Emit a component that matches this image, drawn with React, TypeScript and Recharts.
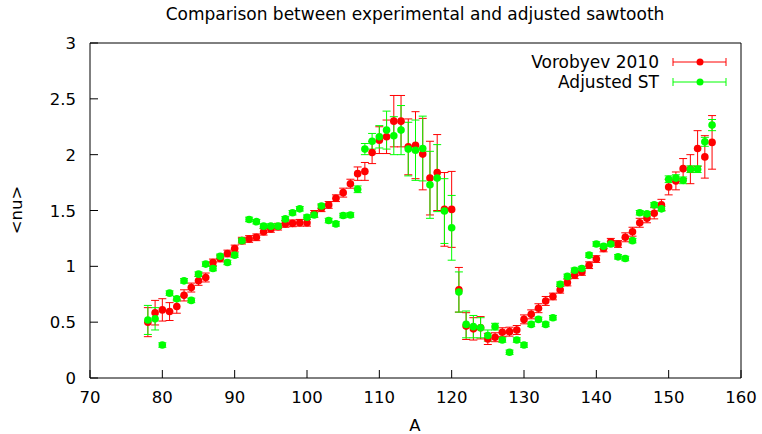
import React from "react";
import {
    ScatterChart,
    Scatter,
    XAxis,
    YAxis,
    ErrorBar,
} from "recharts";

// mass numbers A = 78 .. 156
const massNumbers = [
    78, 79, 80, 81, 82, 83, 84, 85, 86, 87, 88, 89, 90, 91, 92, 93, 94, 95, 96, 97,
    98, 99, 100, 101, 102, 103, 104, 105, 106, 107, 108, 109, 110, 111, 112, 113, 114, 115, 116, 117,
    118, 119, 120, 121, 122, 123, 124, 125, 126, 127, 128, 129, 130, 131, 132, 133, 134, 135, 136, 137,
    138, 139, 140, 141, 142, 143, 144, 145, 146, 147, 148, 149, 150, 151, 152, 153, 154, 155, 156,
];

// Vorobyev 2010
const vorobyevNu = [
    0.50, 0.585, 0.61, 0.595, 0.64, 0.74, 0.81, 0.87, 0.90, 1.035, 1.07, 1.115, 1.16, 1.23, 1.245, 1.26, 1.31, 1.335, 1.355, 1.38,
    1.385, 1.39, 1.39, 1.47, 1.52, 1.55, 1.61, 1.66, 1.74, 1.83, 1.85, 2.02, 2.13, 2.16, 2.30, 2.30, 2.07, 2.085, 2.005, 1.79,
    1.84, 1.51, 1.51, 0.79, 0.465, 0.44, 0.45, 0.35, 0.365, 0.41, 0.415, 0.43, 0.525, 0.57, 0.625, 0.69, 0.73, 0.79, 0.855, 0.92,
    0.95, 1.01, 1.065, 1.16, 1.22, 1.20, 1.26, 1.31, 1.39, 1.43, 1.475, 1.55, 1.71, 1.765, 1.875, 1.87, 2.055, 1.98, 2.11,
];
const vorobyevErr = [
    0.13, 0.11, 0.10, 0.08, 0.06, 0.05, 0.04, 0.04, 0.04, 0.03, 0.03, 0.03, 0.03, 0.03, 0.03, 0.03, 0.03, 0.03, 0.03, 0.03,
    0.03, 0.03, 0.03, 0.03, 0.03, 0.03, 0.03, 0.04, 0.04, 0.06, 0.08, 0.10, 0.12, 0.15, 0.23, 0.23, 0.25, 0.30, 0.32, 0.33,
    0.34, 0.33, 0.34, 0.20, 0.12, 0.10, 0.10, 0.05, 0.04, 0.04, 0.04, 0.04, 0.04, 0.04, 0.04, 0.04, 0.03, 0.03, 0.03, 0.03,
    0.03, 0.03, 0.03, 0.03, 0.03, 0.03, 0.04, 0.04, 0.04, 0.04, 0.05, 0.05, 0.07, 0.08, 0.09, 0.13, 0.16, 0.19, 0.24,
];

// Adjusted ST
const adjustedNu = [
    0.52, 0.53, 0.295, 0.76, 0.71, 0.87, 0.695, 0.93, 1.02, 0.98, 1.09, 1.035, 1.10, 1.23, 1.42, 1.40, 1.36, 1.36, 1.36, 1.425,
    1.48, 1.515, 1.44, 1.46, 1.54, 1.41, 1.38, 1.455, 1.46, 1.69, 2.05, 2.12, 2.16, 2.22, 2.17, 2.22, 2.05, 2.04, 2.055, 1.73,
    1.79, 1.495, 1.345, 0.77, 0.48, 0.46, 0.45, 0.38, 0.46, 0.34, 0.23, 0.34, 0.295, 0.48, 0.525, 0.48, 0.54, 0.84, 0.91, 0.965,
    0.98, 1.10, 1.20, 1.18, 1.20, 1.085, 1.07, 1.23, 1.48, 1.47, 1.55, 1.515, 1.78, 1.79, 1.77, 1.87, 1.87, 2.115, 2.265,
];
const adjustedErr = [
    0.13, 0.10, 0.02, 0.02, 0.02, 0.02, 0.02, 0.02, 0.02, 0.02, 0.02, 0.02, 0.02, 0.02, 0.02, 0.02, 0.02, 0.02, 0.02, 0.02,
    0.02, 0.02, 0.02, 0.02, 0.02, 0.02, 0.02, 0.02, 0.02, 0.03, 0.05, 0.07, 0.10, 0.17, 0.17, 0.22, 0.24, 0.27, 0.29, 0.30,
    0.30, 0.29, 0.29, 0.18, 0.12, 0.10, 0.09, 0.05, 0.03, 0.02, 0.02, 0.02, 0.02, 0.02, 0.02, 0.02, 0.02, 0.02, 0.02, 0.02,
    0.02, 0.02, 0.02, 0.02, 0.02, 0.02, 0.02, 0.02, 0.02, 0.02, 0.02, 0.02, 0.03, 0.03, 0.03, 0.03, 0.03, 0.04, 0.05,
];

const xTicks = [70, 80, 90, 100, 110, 120, 130, 140, 150, 160];
const yTicks = [0, 0.5, 1, 1.5, 2, 2.5, 3];

const vorobyev = massNumbers.map((a, i) => ({ a, nu: vorobyevNu[i], err: vorobyevErr[i] }));
const adjusted = massNumbers.map((a, i) => ({ a, nu: adjustedNu[i], err: adjustedErr[i] }));

const FONT = "'DejaVu Sans', sans-serif";
const RED = "#ff0000";
const GREEN = "#00ff00";
const TIC = 8;

const BottomTick = (props: any) => {
    const { x, y, payload } = props;
    return (
        <g>
            <line x1={x} y1={y} x2={x} y2={y - TIC} stroke="#000" />
            <text x={x} y={y + 25} textAnchor="middle" fontSize={16.5} fontFamily={FONT} fill="#000">
                {payload.value}
            </text>
        </g>
    );
};

const TopTick = (props: any) => {
    const { x, y } = props;
    return <line x1={x} y1={y} x2={x} y2={y + TIC} stroke="#000" />;
};

const LeftTick = (props: any) => {
    const { x, y, payload } = props;
    return (
        <g>
            <line x1={x} y1={y} x2={x + TIC} y2={y} stroke="#000" />
            <text x={x - 14} y={y + 6} textAnchor="end" fontSize={16.5} fontFamily={FONT} fill="#000">
                {payload.value}
            </text>
        </g>
    );
};

const RightTick = (props: any) => {
    const { x, y } = props;
    return <line x1={x} y1={y} x2={x - TIC} y2={y} stroke="#000" />;
};

const dot = (color: string) => (props: any) => (
    <circle cx={props.cx} cy={props.cy} r={3.8} fill={color} />
);

const LegendRow = ({ y, label, color }: { y: number; label: string; color: string }) => (
    <g>
        <text x={659} y={y + 6} textAnchor="end" fontSize={17} fontFamily={FONT} fill="#000">
            {label}
        </text>
        <line x1={673} y1={y} x2={726} y2={y} stroke={color} />
        <line x1={673} y1={y - 4} x2={673} y2={y + 4} stroke={color} />
        <line x1={726} y1={y - 4} x2={726} y2={y + 4} stroke={color} />
        <circle cx={700} cy={y} r={3.5} fill={color} />
    </g>
);

export default function App() {
    return (
        <div style={{ position: "absolute", left: 0, top: 0, width: 762, height: 434, background: "#fff" }}>
            <ScatterChart width={762} height={434} margin={{ top: 42, right: 20, bottom: 16, left: 40 }}>
                <XAxis
                    xAxisId="bottom"
                    dataKey="a"
                    type="number"
                    domain={[70, 160]}
                    ticks={xTicks}
                    height={40}
                    tickSize={0}
                    tickMargin={0}
                    tickLine={false}
                    axisLine={{ stroke: "#000" }}
                    tick={BottomTick}
                    interval={0}
                />
                <XAxis
                    xAxisId="top"
                    orientation="top"
                    dataKey="a"
                    type="number"
                    domain={[70, 160]}
                    ticks={xTicks}
                    height={1}
                    tickSize={0}
                    tickMargin={0}
                    tickLine={false}
                    axisLine={{ stroke: "#000" }}
                    tick={TopTick}
                    interval={0}
                />
                <YAxis
                    yAxisId="left"
                    dataKey="nu"
                    type="number"
                    domain={[0, 3]}
                    ticks={yTicks}
                    width={50}
                    tickSize={0}
                    tickMargin={0}
                    tickLine={false}
                    axisLine={{ stroke: "#000" }}
                    tick={LeftTick}
                    interval={0}
                />
                <YAxis
                    yAxisId="right"
                    orientation="right"
                    dataKey="nu"
                    type="number"
                    domain={[0, 3]}
                    ticks={yTicks}
                    width={1}
                    tickSize={0}
                    tickMargin={0}
                    tickLine={false}
                    axisLine={{ stroke: "#000" }}
                    tick={RightTick}
                    interval={0}
                />
                <Scatter
                    name="Vorobyev 2010"
                    data={vorobyev}
                    xAxisId="bottom"
                    yAxisId="left"
                    dataKey="nu"
                    fill={RED}
                    shape={dot(RED)}
                    isAnimationActive={false}
                >
                    <ErrorBar dataKey="err" direction="y" width={4} stroke={RED} strokeWidth={1} isAnimationActive={false} />
                </Scatter>
                <Scatter
                    name="Adjusted ST"
                    data={adjusted}
                    xAxisId="bottom"
                    yAxisId="left"
                    dataKey="nu"
                    fill={GREEN}
                    shape={dot(GREEN)}
                    isAnimationActive={false}
                >
                    <ErrorBar dataKey="err" direction="y" width={4} stroke={GREEN} strokeWidth={1} isAnimationActive={false} />
                </Scatter>
            </ScatterChart>
            <svg width={762} height={434} style={{ position: "absolute", left: 0, top: 0, pointerEvents: "none" }}>
                <text x={415} y={20} textAnchor="middle" fontSize={17} fontFamily={FONT} fill="#000">
                    Comparison between experimental and adjusted sawtooth
                </text>
                <text x={415} y={431} textAnchor="middle" fontSize={16.5} fontFamily={FONT} fill="#000">
                    A
                </text>
                <text
                    transform="translate(22 210) rotate(-90)"
                    textAnchor="middle"
                    fontSize={16.5}
                    fontFamily={FONT}
                    fill="#000"
                >
                    {"<nu>"}
                </text>
                <LegendRow y={62} label="Vorobyev 2010" color={RED} />
                <LegendRow y={82} label="Adjusted ST" color={GREEN} />
            </svg>
        </div>
    );
}
